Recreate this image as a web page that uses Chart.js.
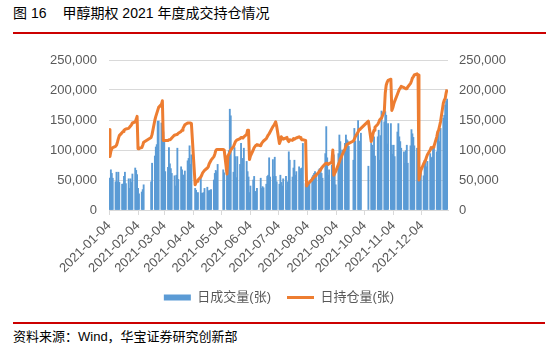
<!DOCTYPE html>
<html>
<head>
<meta charset="utf-8">
<script src="https://cdn.jsdelivr.net/npm/chart.js@4.4.0/dist/chart.umd.min.js"></script>
<style>
html,body{margin:0;padding:0;background:#fff;width:558px;height:354px;overflow:hidden;font-family:"Liberation Sans","Noto Sans CJK SC",sans-serif;}
#title{position:absolute;left:13px;top:4px;font-size:14px;color:#000;white-space:pre;line-height:18px;}
#rule1{position:absolute;left:13px;top:32px;width:533px;height:2px;background:#cc0000;}
#wrap{position:absolute;left:0;top:36px;width:558px;height:278px;}
#rule2{position:absolute;left:13px;top:322px;width:532px;height:2px;background:#cc0000;}
#source{position:absolute;left:13px;top:329px;font-size:13px;color:#000;line-height:16px;white-space:pre;}
</style>
</head>
<body>
<div id="title">图 16<span style="display:inline-block;width:16px"></span>甲醇期权 2021 年度成交持仓情况</div>
<div id="rule1"></div>
<div id="wrap"><canvas id="c" width="558" height="278"></canvas></div>
<div id="rule2"></div>
<div id="source">资料来源：Wind，华宝证券研究创新部</div>
<script>
const YEAR = '2021';
const tradeDates = [
'01-04','01-05','01-06','01-07','01-08','01-11','01-12','01-13','01-14','01-15','01-18','01-19','01-20','01-21','01-22','01-25','01-26','01-27','01-28','01-29',
'02-01','02-02','02-03','02-04','02-05','02-08','02-09','02-10','02-18','02-19','02-22','02-23','02-24','02-25','02-26',
'03-01','03-02','03-03','03-04','03-05','03-08','03-09','03-10','03-11','03-12','03-15','03-16','03-17','03-18','03-19','03-22','03-23','03-24','03-25','03-26','03-29','03-30','03-31',
'04-01','04-02','04-06','04-07','04-08','04-09','04-12','04-13','04-14','04-15','04-16','04-19','04-20','04-21','04-22','04-23','04-26','04-27','04-28','04-29','04-30',
'05-06','05-07','05-10','05-11','05-12','05-13','05-14','05-17','05-18','05-19','05-20','05-21','05-24','05-25','05-26','05-27','05-28','05-31',
'06-01','06-02','06-03','06-04','06-07','06-08','06-09','06-10','06-11','06-15','06-16','06-17','06-18','06-21','06-22','06-23','06-24','06-25','06-28','06-29','06-30',
'07-01','07-02','07-05','07-06','07-07','07-08','07-09','07-12','07-13','07-14','07-15','07-16','07-19','07-20','07-21','07-22','07-23','07-26','07-27','07-28','07-29','07-30',
'08-02','08-03','08-04','08-05','08-06','08-09','08-10','08-11','08-12','08-13','08-16','08-17','08-18','08-19','08-20','08-23','08-24','08-25','08-26','08-27','08-30','08-31',
'09-01','09-02','09-03','09-06','09-07','09-08','09-09','09-10','09-13','09-14','09-15','09-16','09-17','09-22','09-23','09-24','09-27','09-28','09-29','09-30',
'10-08','10-11','10-12','10-13','10-14','10-15','10-18','10-19','10-20','10-21','10-22','10-25','10-26','10-27','10-28','10-29',
'11-01','11-02','11-03','11-04','11-05','11-08','11-09','11-10','11-11','11-12','11-15','11-16','11-17','11-18','11-19','11-22','11-23','11-24','11-25','11-26','11-29','11-30',
'12-01','12-02','12-03','12-06','12-07','12-08','12-09','12-10','12-13','12-14','12-15','12-16','12-17','12-20','12-21','12-22','12-23','12-24','12-27','12-28','12-29','12-30','12-31'
];
const dailyVolume = [
51000,53000,67000,61000,53000,47000,63000,47000,63000,46000,43000,43000,56000,63000,44000,52000,36000,52000,46000,60000,
70000,66000,59000,36000,27000,30000,34000,42000,47000,78000,90000,105000,109000,148000,148000,
145000,122000,130000,114000,64000,71000,104000,77000,69000,61000,57000,40000,58000,103000,51000,72000,67000,58000,58000,65000,82000,86000,107000,
76000,92000,36000,33000,28000,29000,53000,28000,28000,29000,36000,38000,32000,32000,33000,34000,50000,61000,66000,64000,76000,
67000,62000,72000,62000,99000,168000,157000,63000,104000,89000,54000,89000,76000,111000,65000,86000,103000,81000,
64000,55000,29000,40000,50000,56000,31000,28000,36000,53000,36000,39000,37000,43000,56000,58000,87000,55000,84000,56000,88000,
56000,47000,43000,58000,46000,40000,52000,56000,33000,47000,97000,83000,55000,70000,83000,58000,64000,72000,69000,58000,70000,111000,
44000,46000,40000,44000,46000,55000,58000,61000,64000,61000,67000,69000,67000,61000,53000,94000,139000,87000,58000,67000,75000,98000,
92000,61000,42000,94000,125000,114000,86000,100000,111000,125000,117000,115000,106000,83000,136000,115000,149000,115000,108000,128000,
73000,111000,108000,100000,122000,90000,122000,133000,83000,124000,165000,147000,164000,158000,110000,144000,
144000,108000,93000,108000,89000,130000,144000,122000,114000,103000,97000,78000,99000,108000,78000,107000,134000,127000,121000,107000,103000,101000,
58000,69000,61000,57000,83000,83000,72000,81000,94000,86000,88000,101000,104000,97000,119000,130000,114000,136000,153000,158000,175000,181000,185000
];
const openInterest = [
134000,89000,98000,102000,104000,106000,108000,113000,119000,124000,129000,131000,133000,134000,135000,136000,138000,140000,142000,145000,
147000,151000,156000,102000,103000,104000,108000,113000,121000,126000,150000,156000,161000,166000,171000,
176000,182000,116000,116000,116000,116000,117000,117000,118000,120000,125000,125000,126000,126000,128000,131000,133000,136000,139000,142000,145000,145000,145000,
145000,144000,42000,46000,48000,50000,55000,58000,62000,64000,66000,70000,72000,77000,80000,83000,89000,93000,99000,101000,101000,
101000,100000,60000,90000,93000,96000,100000,106000,110000,114000,116000,117000,119000,121000,121000,120000,122000,126000,
133000,133000,84000,90000,100000,104000,106000,108000,109000,107000,111000,113000,115000,119000,122000,125000,127000,130000,139000,141000,144000,
147000,140000,111000,115000,122000,120000,118000,120000,121000,116000,114000,117000,116000,119000,118000,119000,120000,122000,121000,119000,117000,117000,
116000,40000,43000,45000,46000,51000,53000,55000,57000,58000,63000,65000,67000,70000,72000,77000,78000,78000,76000,77000,80000,100000,
58000,61000,64000,76000,80000,85000,88000,92000,102000,106000,109000,110000,111000,115000,118000,122000,130000,134000,135000,136000,
148000,114000,119000,128000,133000,138000,143000,146000,150000,152000,153000,165000,195000,208000,213000,216000,
218000,166000,170000,176000,181000,193000,197000,201000,203000,206000,204000,203000,202000,202000,205000,211000,215000,220000,222000,225000,227000,225000,
50000,58000,66000,77000,80000,83000,88000,92000,100000,104000,103000,105000,106000,122000,130000,133000,140000,147000,178000,183000,186000,195000,201000
];
const tickDates = ['2021-01-04','2021-02-04','2021-03-04','2021-04-04','2021-05-04','2021-06-04','2021-07-04','2021-08-04','2021-09-04','2021-10-04','2021-11-04','2021-12-04'];
const axisStart = '2021-01-04';
const axisEnd = '2022-01-01';
const yTicks = [0, 50000, 100000, 150000, 200000, 250000];
const seriesNames = ['日成交量(张)', '日持仓量(张)'];

const DAY = 86400000;
function toUTC(s){ const p = s.split('-').map(Number); return Date.UTC(p[0], p[1]-1, p[2]); }
const origin = toUTC(axisStart);
function dayIndex(s){ return Math.round((toUTC(s) - origin) / DAY); }
const xs = tradeDates.map(md => dayIndex(YEAR + '-' + md));
const tickPos = tickDates.map(dayIndex);
const fmt = v => Number(v).toLocaleString('en-US');

Chart.defaults.font.family = '"Liberation Sans","Noto Sans CJK SC",sans-serif';
Chart.defaults.color = '#595959';

new Chart(document.getElementById('c'), {
  data: {
    datasets: [
      {
        type: 'bar',
        label: seriesNames[0],
        data: xs.map((x, i) => ({x: x, y: dailyVolume[i]})),
        backgroundColor: '#5b9bd5',
        borderWidth: 0,
        barThickness: 1.2,
        yAxisID: 'y',
        order: 2,
        pointStyle: 'rect'
      },
      {
        type: 'line',
        label: seriesNames[1],
        data: xs.map((x, i) => ({x: x, y: openInterest[i]})),
        borderColor: '#ed7d31',
        backgroundColor: '#ed7d31',
        borderWidth: 3,
        borderJoinStyle: 'round',
        pointRadius: 0,
        tension: 0,
        yAxisID: 'y1',
        order: 1,
        pointStyle: 'line'
      }
    ]
  },
  options: {
    responsive: false,
    animation: false,
    devicePixelRatio: 1,
    layout: { padding: { top: 24, left: 0, right: 0, bottom: 0 } },
    plugins: {
      tooltip: { enabled: false },
      legend: {
        position: 'bottom',
        labels: {
          usePointStyle: true,
          pointStyleWidth: 27,
          boxHeight: 6,
          padding: 16,
          color: '#595959',
          font: { size: 13 },
          sort: (a, b) => a.datasetIndex - b.datasetIndex
        }
      }
    },
    scales: {
      x: {
        type: 'linear',
        offset: false,
        min: 0,
        max: dayIndex(axisEnd),
        afterBuildTicks: s => { s.ticks = tickPos.map(v => ({value: v})); },
        afterFit: s => { s.height = 65; },
        grid: { drawOnChartArea: false, drawTicks: true, tickLength: 5, color: '#d9d9d9', offset: false },
        border: { color: '#d9d9d9' },
        ticks: {
          autoSkip: false,
          maxRotation: 45,
          minRotation: 45,
          padding: 3,
          color: '#595959',
          font: { size: 13 },
          callback: (v, i) => tickDates[i]
        }
      },
      y: {
        position: 'left',
        min: 0, max: 250000,
        afterBuildTicks: s => { s.ticks = yTicks.map(v => ({value: v})); },
        afterFit: s => { s.width = 109; },
        grid: { color: '#d9d9d9', drawTicks: false },
        border: { display: false },
        ticks: { padding: 12, color: '#595959', font: { size: 13 }, callback: v => fmt(v) }
      },
      y1: {
        position: 'right',
        min: 0, max: 250000,
        afterBuildTicks: s => { s.ticks = yTicks.map(v => ({value: v})); },
        afterFit: s => { s.width = 110; },
        grid: { drawOnChartArea: false, drawTicks: false },
        border: { display: false },
        ticks: { padding: 11, color: '#595959', font: { size: 13 }, callback: v => fmt(v) }
      }
    }
  }
});
</script>
</body>
</html>
